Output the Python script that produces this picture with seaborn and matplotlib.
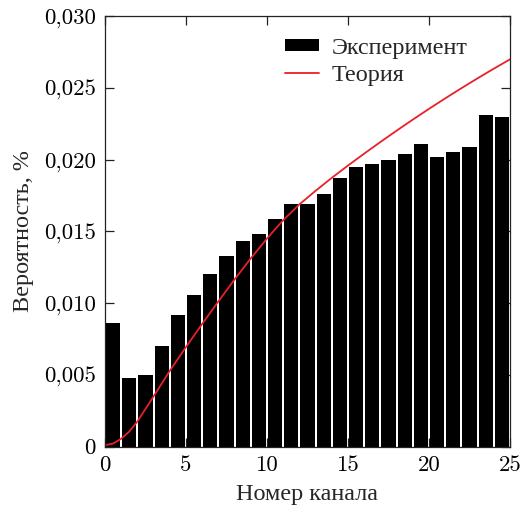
import numpy as np
import pandas as pd
import matplotlib
matplotlib.use("Agg")
import matplotlib.pyplot as plt
from matplotlib.patches import Patch
from matplotlib.lines import Line2D
import seaborn as sns

# Measured detection probability per channel
channels = list(range(25))
experiment = [0.0086, 0.0048, 0.0050, 0.0070, 0.0092, 0.0106, 0.0120, 0.0133,
              0.0143, 0.0148, 0.0159, 0.0169, 0.0169, 0.0176, 0.0187, 0.0195,
              0.0197, 0.0200, 0.0204, 0.0211, 0.0202, 0.0205, 0.0209, 0.0231,
              0.0230]

# Theoretical prediction
theory_x = [0, 0.5, 1, 1.5, 2, 3, 4, 5, 6, 7, 8, 9, 10, 11, 12, 13, 14, 15,
            16, 17, 18, 19, 20, 21, 22, 23, 24, 25]
theory_y = [0.00010, 0.00022, 0.00055, 0.00105, 0.00175, 0.00350, 0.00528,
            0.00694, 0.00855, 0.01012, 0.01165, 0.01312, 0.01450, 0.01578,
            0.01688, 0.01783, 0.01873, 0.01959, 0.02042, 0.02123, 0.02202,
            0.02279, 0.02354, 0.02427, 0.02498, 0.02567, 0.02634, 0.02699]

x_ticks = [0, 5, 10, 15, 20, 25]
y_ticks = [0, 0.005, 0.010, 0.015, 0.020, 0.025, 0.030]
y_tick_labels = ["0", "0,005", "0,010", "0,015", "0,020", "0,025", "0,030"]

sns.set_style("ticks")
plt.rcParams["font.family"] = ["cmr10", "Liberation Serif"]
plt.rcParams["axes.unicode_minus"] = False
plt.rcParams["axes.formatter.use_mathtext"] = True

FS = 16.4
text_font = {"family": ["Liberation Serif"], "size": FS + 1}

df = pd.DataFrame({"channel": channels, "p": experiment})

fig = plt.figure(figsize=(5.22, 5.05), dpi=100)
ax = fig.add_axes([0.201, 0.1155, 0.776, 0.8525])

# One bin per channel, spanning [n, n + 1)
sns.histplot(data=df, x="channel", weights="p", binwidth=1, binrange=(0, 25),
             shrink=0.88, color="black", edgecolor="none", alpha=1.0,
             linewidth=0, ax=ax)
sns.lineplot(x=theory_x, y=theory_y, color="#e8202a", linewidth=1.3, ax=ax)

ax.set_xlim(0, 25)
ax.set_ylim(0, 0.030)
ax.set_xticks(x_ticks)
ax.set_xticklabels([str(t) for t in x_ticks])
ax.set_yticks(y_ticks)
ax.set_yticklabels(y_tick_labels)
ax.tick_params(direction="in", length=6.5, width=0.9, labelsize=FS,
               top=True, right=True, pad=6.5, colors="#222222",
               labelcolor="black")
for s in ax.spines.values():
    s.set_visible(True)
    s.set_linewidth(0.9)
    s.set_color("#222222")

ax.set_xlabel("Номер канала", fontdict=text_font, labelpad=6)
ax.set_ylabel("Вероятность, %", fontdict=text_font, labelpad=7)

handles = [Patch(facecolor="black", edgecolor="none"),
           Line2D([0], [0], color="#e8202a", linewidth=1.3)]
ax.legend(handles, ["Эксперимент", "Теория"], loc="upper right",
          bbox_to_anchor=(0.93, 0.984), frameon=False,
          prop={"family": ["Liberation Serif"], "size": FS + 1},
          handlelength=1.4, handleheight=0.4, handletextpad=0.5,
          labelspacing=0.25, borderaxespad=0.2)

fig.savefig("out.png", dpi=100)
